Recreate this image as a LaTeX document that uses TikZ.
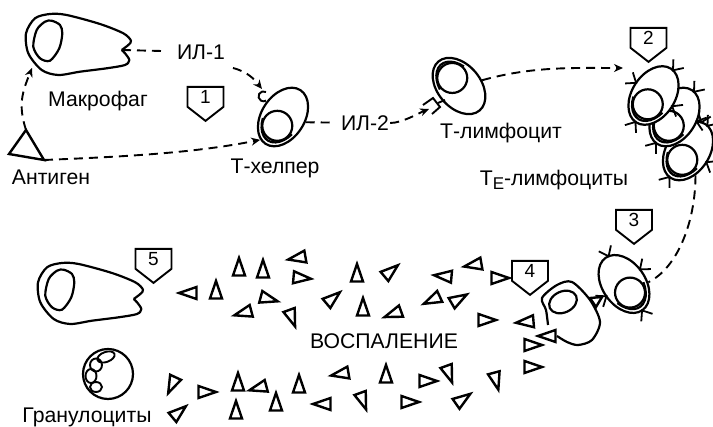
\documentclass[tikz,border=0pt]{standalone}
\usepackage{fontspec}
\setmainfont{Liberation Sans}
\usetikzlibrary{shapes.geometric, shapes.symbols, arrows.meta}
\tikzstyle{cell} = [ellipse, draw, fill=white, line width=2.2pt, inner sep=0pt, minimum width=64pt, minimum height=43pt]
\tikzstyle{nucleus} = [circle, draw, line width=2.2pt, inner sep=0pt, minimum size=30pt]
\tikzstyle{outline} = [line width=2.2pt, line join=round]
\tikzstyle{cyto} = [line width=2.4pt, line join=miter]
\tikzstyle{badge} = [signal, signal to=south, signal pointer angle=104, draw, line width=1.9pt, inner sep=0pt, minimum width=36pt, minimum height=24pt, anchor=north]
\tikzstyle{txt} = [inner sep=1pt, font=\fontsize{21.2}{23}\selectfont]
\tikzstyle{link} = [line width=1.9pt, dash pattern=on 9pt off 6pt]
\tikzstyle{arrow} = [link,-{Stealth[length=9pt,width=8pt]}]

\newcommand{\badgenum}[1]{\raisebox{-2.5pt}{\fontsize{19}{19}\selectfont #1}}

% T cell: name, centre, rotation
\newcommand{\lymph}[3]{
    \node [cell, rotate=#3] at (#2) (#1) {};
    \begin{scope}[shift={(#2)}, rotate=#3, x=1pt, y=1pt]
        \node [nucleus] at (-10.5,0) (#1n) {};
        \draw [outline] (115:28 and 18) arc [start angle=115, end angle=250, x radius=28, y radius=18];
    \end{scope}
}
% surface receptors on a T cell: centre, rotation, border angles
\newcommand{\spikes}[3]{
    \begin{scope}[shift={(#1)}, rotate=#2, x=1pt, y=1pt]
        \foreach \t in {#3}
            \draw [line width=1.8pt, shift={(\t:32 and 21.5)}] (\t-38:11) -- (0,0) -- (\t+38:11);
    \end{scope}
}

\tikzset{
    macrophage/.pic={
        \coordinate (-mouth) at (122,50);
        \draw [outline] plot [smooth] coordinates {(121.7,50) (128.3,45) (131,40.7) (123.3,33.3) (100,24) (66.7,15) (50,14) (35,18.3) (26,33.3) (28.3,53.3) (41.7,70) (58.3,75) (80,71.7) (106.7,68.3) (125,65) (129.3,60) (125,53.3) (121.7,50)};
        \draw [outline] plot [smooth cycle] coordinates {(51.7,20.7) (60,25) (62.3,33.3) (59.3,48.3) (50,60.7) (40,58.3) (33.3,46.7) (36.7,30) (45,21.7)};
    }
}

\begin{document}
\begin{tikzpicture}[x=1pt, y=-1pt]
    \useasboundingbox (0,0) rectangle (713,427);

    % macrophages
    \pic (mac1) at (0,0) {macrophage};
    \pic (mac2) at (12,249) {macrophage};

    % antigen
    \coordinate (agtop) at (26,130);
    \coordinate (agleft) at (9,154);
    \coordinate (agright) at (44,160);
    \draw [cyto] (agtop) -- (agleft) -- (agright) -- cycle;

    % T cells
    \lymph{thelper}{283,117}{57}
    \lymph{tlymph}{459,86}{-50}
    \lymph{tec}{688,151}{57}
    \spikes{688,151}{57}{-7,-89,176,12}
    \lymph{teb}{674.5,117}{57}
    \spikes{674.5,117}{57}{-7,-75,176}
    \lymph{tea}{653.5,95.5}{57}
    \spikes{653.5,95.5}{57}{88,-7,178,-88}
    \lymph{tethree}{624,284}{125}
    \spikes{624,284}{125}{-9,-85,179,90}

    % receptors
    \draw [line width=1.9pt] (266,92) arc [start angle=60, end angle=300, radius=5pt];
    \draw [line width=1.9pt] (423,105) -- (433,98) -- (440,107) -- (432,114);
    \draw [line width=1.9pt] (438,103) -- (445,100);

    % macrophage taking up cytokine
    \draw [outline] plot [smooth] coordinates {(548,325) (546,310) (542,298) (557,285) (572,282) (590,300) (600,322) (592,340) (578,345) (567,342) (557,336)};
    \node [ellipse, draw, line width=2.2pt, inner sep=0pt, minimum width=29pt, minimum height=21pt, rotate=25] at (563,302) (eatnuc) {};
    \draw [cyto] (590,298) -- (602,297) -- (596,307) -- cycle;

    % granulocyte
    \node [circle, draw, line width=2.2pt, inner sep=0pt, minimum size=50pt] at (108,374) (gran) {};
    \foreach \x/\y/\rx/\ry/\a in {106/357/9/5/20, 96/365/6/6.5/0, 91/376/5.5/7/0, 96/387/6/5/0}
        \draw [line width=1.9pt, shift={(\x,\y)}, rotate=\a] (0,0) ellipse (\rx pt and \ry pt);

    % cytokines
    \foreach \x/\y/\a in {188/293/180, 216/290/90, 239/267/90, 263/269/90, 297/258/190, 302/278/-5, 243/313/195, 269/299/-15, 292/318/-70,
        357/273/90, 391/271/40, 443/276/175, 473/265/190, 500/278/0, 333/298/40, 363/307/90, 432/300/205, 459/299/30, 393/314/200,
        487/320/0, 525/322/185, 547/336/180, 533/345/0, 533/367/0,
        258/388/195, 276/402/90, 299/384/90, 340/374/190, 386/374/90, 322/404/180, 363/401/-70, 410/402/0, 428/381/0, 449/374/-70,
        463/399/35, 496/381/-75, 172/385/-115, 207/392/0, 179/412/40, 238/382/90, 236/410/90}
        \draw [cyto, shift={(\x,\y)}, rotate=\a] (9,0) -- (-8.5,6) -- (-8.5,-6) -- cycle;

    % numbered marks
    \node [badge] at (205.5,86) (b1) {\badgenum{1}};
    \node [badge] at (648.5,27) (b2) {\badgenum{2}};
    \node [badge] at (634,209) (b3) {\badgenum{3}};
    \node [badge] at (530,260) (b4) {\badgenum{4}};
    \node [badge] at (153.5,248) (b5) {\badgenum{5}};

    % labels
    \node [txt] at (201,52) (il1) {ИЛ-1};
    \node [txt] at (365,123) (il2) {ИЛ-2};
    \node [txt] at (98,101) (macrolabel) {Макрофаг};
    \node [txt] at (51,177) (aglabel) {Антиген};
    \node [txt] at (275,168) (helperlabel) {Т-хелпер};
    \node [txt] at (501,133) (lymphlabel) {Т-лимфоцит};
    \node [txt] at (554,180) (telabel) {Т\raisebox{-4pt}{\fontsize{17}{17}\selectfont E}-лимфоциты};
    \node [txt] at (384,341) (inflam) {ВОСПАЛЕНИЕ};
    \node [txt] at (87,417) (granlabel) {Гранулоциты};

    % free ends of the dashed lines
    \coordinate (il1out) at (233,68);
    \coordinate (hook) at (262,89);
    \coordinate (recin) at (429,109);
    \coordinate (teend) at (623,68);

    \draw [link, shorten >=9pt] (mac1-mouth) -- (il1);
    \draw [arrow] (il1out) .. controls +(15,4) and +(-8,-10) .. (hook);
    \draw [arrow] (agtop) .. controls +(-8,-25) and +(-10,25) .. (32,68);
    \draw [arrow] (agright) .. controls +(70,-3) and +(-70,14) .. (thelper.168);
    \draw [link, shorten >=5pt] (thelper.-70) -- (il2);
    \draw [arrow] (il2.east) .. controls +(12,0) and +(-10,4) .. (recin);
    \draw [arrow] (tlymph.64) .. controls +(50,-14) and +(-50,0) .. (teend);
    \draw [link] (tec.-130) .. controls +(0,45) and +(30,-15) .. (tethree.-121);
\end{tikzpicture}
\end{document}
